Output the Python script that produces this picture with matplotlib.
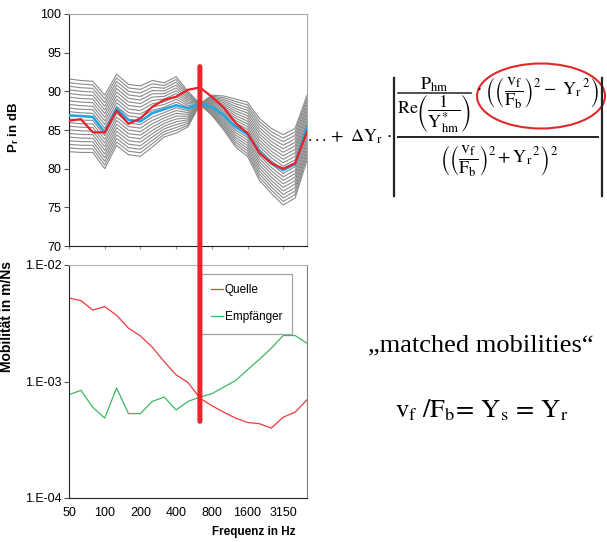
import numpy as np
import matplotlib
matplotlib.use('Agg')
import matplotlib.pyplot as plt
from matplotlib.lines import Line2D
from matplotlib.patches import Ellipse, ConnectionPatch

plt.rcParams['font.family'] = ['Liberation Sans', 'DejaVu Sans']
plt.rcParams['mathtext.fontset'] = 'stix'

# Terzband-Mittenfrequenzen
freqs = [50, 63, 80, 100, 125, 160, 200, 250, 315, 400, 500, 630,
         800, 1000, 1250, 1600, 2000, 2500, 3150, 4000, 5000]
tick_labels = ['50', '100', '200', '400', '800', '1600', '3150']

# Schallleistung P_r in dB
pr_red = [86.2, 86.4, 84.7, 84.7, 87.5, 85.8, 86.5, 88.0, 88.9, 89.3, 90.2,
          90.5, 89.3, 87.9, 85.9, 84.6, 82.0, 80.7, 80.0, 80.7, 84.8]
pr_blue = [86.9, 86.8, 86.7, 84.7, 87.8, 86.3, 86.1, 87.2, 87.7, 88.2, 87.8,
           88.4, 88.0, 86.9, 85.4, 84.4, 82.2, 80.7, 79.8, 80.6, 85.4]
# Schar fuer Delta Y_r: obere und untere Kurve
fan_upper = [91.6, 91.4, 91.3, 89.5, 92.2, 90.9, 90.7, 91.4, 91.1, 91.9, 90.0,
             88.4, 89.5, 89.4, 89.0, 88.6, 86.5, 85.2, 84.4, 85.2, 89.5]
fan_lower = [82.2, 82.1, 82.1, 80.0, 83.0, 81.8, 81.6, 82.8, 84.1, 84.6, 85.4,
             88.3, 86.9, 85.0, 82.8, 81.6, 78.5, 76.8, 75.3, 76.2, 81.1]
fan_count = 21

# Mobilitaeten in m/Ns
quelle = [5.2e-3, 4.95e-3, 4.1e-3, 4.4e-3, 3.7e-3, 2.87e-3, 2.46e-3, 1.97e-3,
          1.48e-3, 1.14e-3, 9.8e-4, 7.2e-4, 6.2e-4, 5.45e-4, 4.85e-4, 4.45e-4,
          4.34e-4, 3.98e-4, 4.94e-4, 5.45e-4, 6.96e-4]
empfaenger = [7.7e-4, 8.4e-4, 6.0e-4, 4.85e-4, 8.8e-4, 5.3e-4, 5.3e-4, 6.75e-4,
              7.35e-4, 5.7e-4, 6.75e-4, 7.35e-4, 7.85e-4, 8.95e-4, 1.02e-3,
              1.26e-3, 1.55e-3, 1.93e-3, 2.48e-3, 2.48e-3, 2.13e-3]

W, H = 607, 542
fig = plt.figure(figsize=(W / 100, H / 100), dpi=100)


def px(x, y):
    return x / W, 1 - y / H


idx = np.arange(len(freqs))
tick_pos = [freqs.index(int(t)) for t in tick_labels]
match_idx = freqs.index(630)

# ---- oberes Diagramm
ax1 = fig.add_axes([69 / W, 1 - 246 / H, 238 / W, 232 / H])
up = np.array(fan_upper)
lo = np.array(fan_lower)
for k in range(fan_count):
    w = k / (fan_count - 1)
    ax1.plot(idx, lo + (up - lo) * w, color='#8a8a8a', lw=0.8, zorder=2)
ax1.plot(idx, pr_blue, color='#1ea6e6', lw=1.8, zorder=3)
ax1.plot(idx, pr_red, color='#e8202a', lw=1.6, zorder=4)
ax1.set_xlim(0, len(freqs) - 1)
ax1.set_ylim(70, 100)
ax1.set_yticks([70, 75, 80, 85, 90, 95, 100])
ax1.set_xticks(tick_pos)
ax1.set_xticklabels([])
ax1.tick_params(axis='y', length=3.5, pad=2, labelsize=9, color='#555555')
ax1.tick_params(axis='x', length=2.5, color='#999999')
ax1.set_ylabel(r'P$_\mathregular{r}$ in dB', fontsize=9.5, fontweight='bold')
ax1.yaxis.set_label_coords(-0.2, 0.51)
for s in ['top', 'right']:
    ax1.spines[s].set_color('#a8a8a8')
for s in ['left', 'bottom']:
    ax1.spines[s].set_color('#222222')

# ---- unteres Diagramm
ax2 = fig.add_axes([69 / W, 1 - 498 / H, 238 / W, 233 / H])
ax2.plot(idx, quelle, color='#ee3a3a', lw=0.9, label='Quelle')
ax2.plot(idx, empfaenger, color='#3db865', lw=0.9, label='Empfänger')
ax2.set_yscale('log')
ax2.set_xlim(0, len(freqs) - 1)
ax2.set_ylim(1e-4, 1e-2)
ax2.set_yticks([1e-4, 1e-3, 1e-2])
ax2.set_yticklabels(['1.E-04', '1.E-03', '1.E-02'])
ax2.minorticks_off()
ax2.set_xticks(tick_pos)
ax2.set_xticklabels(tick_labels)
ax2.tick_params(axis='y', length=3.5, pad=2, labelsize=9, color='#555555')
ax2.tick_params(axis='x', length=0, pad=6.5, labelsize=9)
ax2.set_ylabel('Mobilität in m/Ns', fontsize=10, fontweight='bold')
ax2.yaxis.set_label_coords(-0.23, 0.78)
ax2.text(0.95, -0.146, 'Frequenz in Hz', transform=ax2.transAxes,
         ha='right', va='center', fontsize=8.5, fontweight='bold')
ax2.spines['top'].set_color('#b4b4b4')
ax2.spines['right'].set_color('#808080')
for s in ['left', 'bottom']:
    ax2.spines[s].set_color('#222222')
leg = ax2.legend(loc='upper left', bbox_to_anchor=(0.555, 0.961),
                 borderaxespad=0, fontsize=8.5, handlelength=1.0,
                 handletextpad=0.15, labelspacing=1.3, borderpad=0.85,
                 fancybox=False, frameon=True)
leg.get_frame().set_edgecolor('#8c8c8c')
leg.get_frame().set_linewidth(0.9)

# senkrechte rote Linie bei 630 Hz
con = ConnectionPatch(xyA=(match_idx, 93.2), coordsA=ax1.transData,
                      xyB=(match_idx, 4.55e-4), coordsB=ax2.transData,
                      color='#e8262c', lw=3.6, zorder=10)
fig.add_artist(con)

# ---- Formel rechts
fs = 13
fig.text(*px(392, 137), r'$\mathrm{...}+\ \Delta\mathrm{Y_r}\,\cdot$',
         ha='right', va='center', fontsize=fs)
# Zaehler: P_hm / Re(1/Y*_hm)
fig.text(*px(434, 85), r'$\mathrm{P_{hm}}$', ha='center', va='center',
         fontsize=fs)
fig.add_artist(Line2D([px(398, 0)[0], px(471, 0)[0]], [px(0, 93)[1]] * 2,
                      transform=fig.transFigure, color='#222222', lw=1.1))
fig.text(*px(434, 114),
         r'$\mathrm{Re}\left(\dfrac{1}{\mathrm{Y}^{*}_{\mathrm{hm}}}\right)$',
         ha='center', va='center', fontsize=fs)
fig.text(*px(538, 93),
         r'$\cdot\ \left(\left(\dfrac{\mathrm{v_f}}{\mathrm{F_b}}\right)^{2}-\ \mathrm{Y_r}^{\,2}\right)$',
         ha='center', va='center', fontsize=fs)
# Nenner
fig.text(*px(499, 161),
         r'$\left(\left(\dfrac{\mathrm{v_f}}{\mathrm{F_b}}\right)^{2}+\mathrm{Y_r}^{\,2}\right)^{2}$',
         ha='center', va='center', fontsize=fs)
for xb in (394, 602):
    fig.add_artist(Line2D([px(xb, 0)[0]] * 2, [px(0, 78)[1], px(0, 196)[1]],
                          transform=fig.transFigure, color='#222222', lw=1.6))
fig.add_artist(Line2D([px(398, 0)[0], px(598, 0)[0]], [px(0, 137)[1]] * 2,
                      transform=fig.transFigure, color='#222222', lw=1.4))
fig.add_artist(Ellipse(px(541, 96), 128 / W, 65 / H, transform=fig.transFigure,
                       fill=False, edgecolor='#e02a2a', lw=1.5))

fig.text(*px(481, 345), '„matched mobilities“', ha='center', va='center',
         fontsize=19, family='Liberation Serif')
fig.text(*px(482, 410), r'$\mathrm{v_f\ /F_b\!=\,Y_s\,=\,Y_r}$',
         ha='center', va='center', fontsize=19)

fig.savefig('out.png', dpi=100)
